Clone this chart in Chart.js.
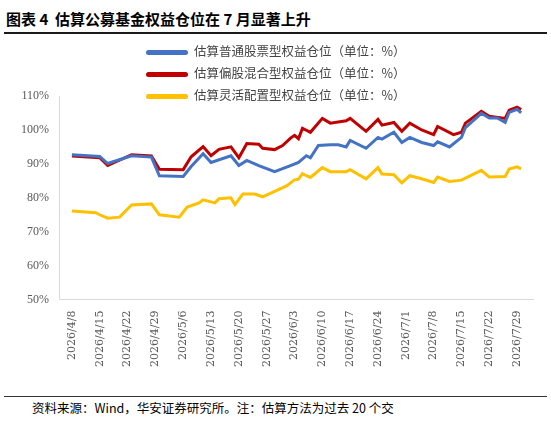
<!DOCTYPE html>
<html><head><meta charset="utf-8">
<script src="https://cdn.jsdelivr.net/npm/chart.js@4/dist/chart.umd.min.js"></script>
<style>
body{margin:0;width:551px;height:422px;background:#fff;position:relative;font-family:"Noto Sans CJK SC",sans-serif;overflow:hidden}
#title{position:absolute;left:6px;top:8px;font-size:15px;font-weight:bold;color:#000}
#tline{position:absolute;left:4px;top:32px;width:543px;height:2px;background:#1a1a1a}
#bline{position:absolute;left:4px;top:396px;width:543px;height:1px;background:#333}
#foot{position:absolute;left:32px;top:398px;font-size:12.5px;color:#000;white-space:nowrap}
#wrap{position:absolute;left:0;top:40px;width:551px;height:330px}
.lg{position:absolute;left:146px;font-size:12.5px;color:#444;white-space:nowrap}
.lg span{display:inline-block;width:42px;height:5px;border-radius:3px;vertical-align:middle;margin-right:6px}
</style></head><body>
<div id="title">图表 4&nbsp; 估算公募基金权益仓位在 7 月显著上升</div>
<div id="tline"></div>
<div id="wrap"><canvas id="c"></canvas></div>
<div class="lg" style="top:41px"><span style="background:#4472C4"></span>估算普通股票型权益仓位（单位：%）</div>
<div class="lg" style="top:63px"><span style="background:#C00000"></span>估算偏股混合型权益仓位（单位：%）</div>
<div class="lg" style="top:85px"><span style="background:#FFC000"></span>估算灵活配置型权益仓位（单位：%）</div>
<div id="bline"></div>
<div id="foot">资料来源：Wind，华安证券研究所。注：估算方法为过去 20 个交</div>
<script>
const tickLabels=["2026/4/8","2026/4/15","2026/4/22","2026/4/29","2026/5/6","2026/5/13","2026/5/20","2026/5/27","2026/6/3","2026/6/10","2026/6/17","2026/6/24","2026/7/1","2026/7/8","2026/7/15","2026/7/22","2026/7/29"];
const blueDays=[0,7,9,15,20,22,28,30,33,35,40,42,44,47,51,55,57,59,60,62,65,67,69,70,74,77,78,81,83,85,88,91,92,95,98,99,103,105,107,109,110,112,113];
const blueVals=[92.7,92.2,90.1,92.4,92.0,86.5,86.3,89.2,93.0,90.4,92.4,89.5,91.0,89.5,87.7,89.5,90.4,92.4,91.8,95.4,95.6,95.6,95.0,96.9,94.6,97.8,97.3,99.3,96.3,97.8,96.3,95.4,96.5,95.0,97.8,100.7,104.9,103.5,103.5,102.2,105.2,106.1,105.0];
const redDays=[0,7,9,15,20,22,28,30,33,35,37,40,42,44,47,48,51,53,55,56,57,58,60,63,65,69,70,74,77,78,81,83,85,88,91,92,96,98,99,103,105,109,110,112,113];
const redVals=[92.3,91.8,89.5,92.7,92.3,88.4,88.3,92.1,95.1,92.4,94.3,95.0,91.8,96.0,95.8,94.6,94.2,95.4,97.6,98.4,97.4,100.5,99.3,103.4,102.0,102.7,103.4,99.6,103.1,101.4,102.2,99.6,102.0,100.0,98.6,101.0,98.6,99.3,102.0,105.5,104.0,103.4,105.8,106.7,106.0];
const yelDays=[0,6,7,9,12,15,20,22,27,29,32,33,36,37,40,41,43,46,48,51,54,56,57,58,59,60,63,65,69,70,74,77,78,81,83,85,88,91,92,95,98,103,105,109,110,112,113];
const yelVals=[76.1,75.6,75.0,74.0,74.3,77.9,78.2,75.0,74.3,77.3,78.5,79.4,78.5,79.7,80.0,78.0,81.1,81.1,80.3,81.9,83.5,85.3,85.5,87.1,86.5,86.0,88.9,87.7,87.7,88.3,85.6,88.9,87.0,86.8,84.4,86.5,85.6,84.5,86.1,84.8,85.2,88.1,86.1,86.3,88.5,89.1,88.5];
const pts=(d,v)=>d.map((x,i)=>({x:x,y:v[i]}));
const ds=(d,v,c)=>({data:pts(d,v),borderColor:c,backgroundColor:c,borderWidth:3,pointRadius:0,tension:0,fill:false});
new Chart(document.getElementById('c'),{type:'line',
data:{datasets:[ds(blueDays,blueVals,'#4472C4'),ds(redDays,redVals,'#C00000'),ds(yelDays,yelVals,'#FFC000')]},
options:{responsive:true,maintainAspectRatio:false,animation:false,
layout:{padding:{top:56,right:18,left:18,bottom:0}},
plugins:{legend:{display:false},tooltip:{enabled:false}},
scales:{
x:{type:'linear',min:-3,max:116,grid:{display:false},border:{display:true,color:'#d9d9d9'},
afterBuildTicks:a=>{a.ticks=tickLabels.map((_,i)=>({value:i*7}));},
ticks:{autoSkip:false,minRotation:90,maxRotation:90,color:'#595959',font:{size:11,family:'"DejaVu Serif",serif'},callback:(v)=>tickLabels[v/7]}},
y:{min:50,max:110,grid:{display:false},border:{display:true,color:'#d9d9d9'},
ticks:{stepSize:10,color:'#595959',font:{size:12,family:'"Liberation Serif",serif'},callback:v=>v+'%'}}}}});
</script></body></html>
